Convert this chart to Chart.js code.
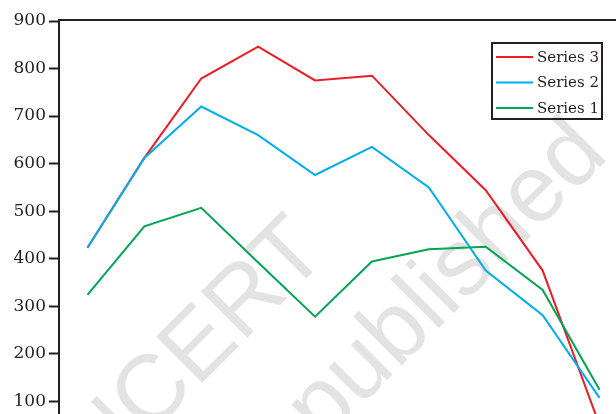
<!DOCTYPE html>
<html>
<head>
<meta charset="utf-8">
<script src="https://cdn.jsdelivr.net/npm/chart.js@4.4.0/dist/chart.umd.min.js"></script>
<style>
  html, body { margin: 0; padding: 0; background: #fff; overflow: hidden; }
  #wrap { width: 616px; height: 414px; overflow: hidden; }
</style>
</head>
<body>
<div id="wrap"><canvas id="seriesChart" width="632" height="462"></canvas></div>
<script>
const categories = ['1', '2', '3', '4', '5', '6', '7', '8', '9', '10'];
const series1 = [324, 468, 507, 392, 278, 394, 420, 425, 334, 124];
const series2 = [423, 612, 720, 660, 576, 635, 550, 375, 281, 107];
const series3 = [423, 612, 779, 846, 775, 785, 660, 544, 375, 50];
const yMin = 0, yMax = 900, yStep = 100;

const inkColor = '#231f20';

// faint diagonal stamp behind everything
const stampPlugin = {
  id: 'stamp',
  beforeDraw(chart) {
    const ctx = chart.ctx;
    const lines = [
      { text: '© NCERT', x: 330, y: 255 },
      { text: 'not to be republished', x: 610, y: 157 }
    ];
    lines.forEach(l => {
      ctx.save();
      ctx.fillStyle = '#e3e3e3';
      ctx.font = '95px "Liberation Sans"';
      ctx.textAlign = 'right';
      ctx.textBaseline = 'alphabetic';
      ctx.translate(l.x, l.y);
      ctx.rotate(-Math.PI / 4);
      ctx.fillText(l.text, 0, 0);
      ctx.restore();
    });
  }
};

// top frame line + boxed legend
const framePlugin = {
  id: 'frame',
  afterDraw(chart) {
    const ctx = chart.ctx;
    const area = chart.chartArea;
    ctx.save();
    ctx.strokeStyle = inkColor;
    ctx.lineWidth = 2;
    ctx.beginPath();
    ctx.moveTo(area.left - 1, area.top - 1);
    ctx.lineTo(area.right, area.top - 1);
    ctx.stroke();

    ctx.strokeRect(492, 43, 110, 76);
    ctx.font = '15px "DejaVu Serif"';
    ctx.textBaseline = 'middle';
    ctx.fillStyle = inkColor;
    const rows = chart.data.datasets.slice().reverse();
    rows.forEach((ds, i) => {
      const y = 57 + i * 25.5;
      ctx.strokeStyle = ds.borderColor;
      ctx.lineWidth = 2;
      ctx.beginPath();
      ctx.moveTo(496, y);
      ctx.lineTo(533, y);
      ctx.stroke();
      ctx.fillText(ds.label, 537, y + 1);
    });
    ctx.restore();
  }
};

new Chart(document.getElementById('seriesChart'), {
  type: 'line',
  data: {
    labels: categories,
    datasets: [
      { label: 'Series 1', data: series1, borderColor: '#00a651' },
      { label: 'Series 2', data: series2, borderColor: '#00aeef' },
      { label: 'Series 3', data: series3, borderColor: '#ed1c24' }
    ]
  },
  options: {
    responsive: false,
    animation: false,
    events: [],
    layout: { padding: { top: 21, right: 4, bottom: 10, left: 0 } },
    elements: {
      line: { borderWidth: 2, tension: 0, fill: false },
      point: { radius: 0 }
    },
    plugins: {
      legend: { display: false },
      tooltip: { enabled: false }
    },
    scales: {
      x: {
        display: false,
        offset: true
      },
      y: {
        min: yMin,
        max: yMax,
        afterFit(scale) { scale.width = 59; },
        border: { display: true, color: inkColor, width: 2 },
        grid: {
          drawOnChartArea: false,
          drawTicks: true,
          tickLength: 10,
          tickColor: inkColor,
          tickWidth: 2
        },
        ticks: {
          stepSize: yStep,
          padding: 3,
          color: inkColor,
          font: { family: '"DejaVu Serif"', size: 17 }
        }
      }
    }
  },
  plugins: [stampPlugin, framePlugin]
});
</script>
</body>
</html>
